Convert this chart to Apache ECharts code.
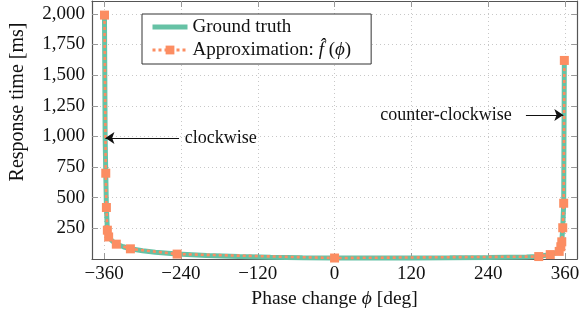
<!DOCTYPE html>
<html>
<head>
<meta charset="utf-8">
<script src="https://cdn.jsdelivr.net/npm/echarts@6/dist/echarts.min.js"></script>
<style>html,body{margin:0;padding:0;background:#fff}#c{width:582px;height:314px}</style>
</head>
<body>
<div id="c"></div>
<script>
const xTicks = [-360, -240, -120, 0, 120, 240, 360];
const yTicks = [250, 500, 750, 1000, 1250, 1500, 1750, 2000];

const truthX = [-359.5, -358.5, -357.5, -356.5, -355, -353, -348, -341, -330, -319, -300, -280, -246, -200, -150, -100, -50, 0, 60, 120, 180, 240, 300, 319, 337, 345, 351, 355, 356.5, 358, 359];
const truthY = [1990, 1000, 700, 420, 240, 180, 150, 121, 100, 83, 68, 55, 40, 28, 20, 14, 10, 8, 8, 9, 10, 12, 16, 20, 36, 50, 62, 140, 255, 455, 1620];

const approxX = [-359.5, -357.5, -356.5, -355, -353, -341, -319, -246, 0, 319, 337, 351, 353.5, 355, 356.5, 358, 359];
const approxY = [1990, 700, 420, 235, 180, 121, 83, 40, 8, 20, 36, 62, 100, 140, 255, 455, 1620];

const noteText = ['clockwise', 'counter-clockwise'];
const noteX = [-178, 174];
const noteY = [985, 1174];
const arrowFromX = [-243, 299];
const arrowToX = [-358, 357.4];
const arrowY = [988, 1174];

const FONT = 'Liberation Serif';
const truthName = 'Ground truth';
const approxName = 'Approximation: f\u0302 (\u03d5)';

const chart = echarts.init(document.getElementById('c'), null, {renderer: 'canvas'});
const axisLineStyle = {color: '#555', width: 1.2};
const tickStyle = {color: '#999', width: 1};
const fmtY = v => v.toLocaleString('en-US');
const fmtX = v => v < 0 ? '\u2212' + (-v) : String(v);

chart.setOption({
  animation: false,
  grid: {left: 83, right: 3, top: 1, bottom: 53},
  legend: {
    orient: 'vertical', left: 142, top: 14,
    data: [
      {name: truthName, itemStyle: {opacity: 0}, lineStyle: {width: 5}},
      {name: approxName, lineStyle: {width: 3}}
    ],
    itemWidth: 35, itemHeight: 11, itemGap: 3,
    padding: [3, 20, 4, 8],
    borderColor: '#333', borderWidth: 1, backgroundColor: '#fff',
    textStyle: {fontFamily: FONT, fontSize: 19, color: '#111', lineHeight: 20,
      rich: {n: {fontFamily: FONT, fontSize: 19, color: '#111'}, i: {fontFamily: FONT, fontSize: 19, fontStyle: 'italic', color: '#111'}}},
    formatter: name => name === approxName ? '{n|Approximation: }{i|f\u0302}{n| (}{i|\u03d5}{n|)}' : name
  },
  xAxis: [{
    type: 'value', min: -379, max: 379, position: 'bottom',
    axisLine: {show: true, onZero: false, lineStyle: axisLineStyle},
    axisTick: {show: true, inside: true, length: 6, customValues: xTicks, lineStyle: tickStyle},
    axisLabel: {customValues: xTicks, formatter: fmtX, margin: 6, color: '#111', fontSize: 19, fontFamily: FONT},
    splitLine: {show: true, lineStyle: {color: '#c8c8c8', type: [1, 3]}},
    name: '{n|Phase change }{i|\u03d5}{n| [deg]}', nameLocation: 'middle', nameGap: 30,
    nameTextStyle: {rich: {n: {fontFamily: FONT, fontSize: 19.5, color: '#111'}, i: {fontFamily: FONT, fontSize: 19.5, fontStyle: 'italic', color: '#111'}}}
  }, {
    type: 'value', min: -379, max: 379, position: 'top',
    axisLine: {show: true, onZero: false, lineStyle: axisLineStyle},
    axisTick: {show: true, inside: true, length: 6, customValues: xTicks, lineStyle: tickStyle},
    axisLabel: {show: false}, splitLine: {show: false}
  }],
  yAxis: [{
    type: 'value', min: 0, max: 2105, position: 'left',
    axisLine: {show: true, onZero: false, lineStyle: axisLineStyle},
    axisTick: {show: true, inside: true, length: 6, customValues: yTicks, lineStyle: tickStyle},
    axisLabel: {customValues: yTicks, formatter: fmtY, margin: 7, color: '#111', fontSize: 19, fontFamily: FONT},
    splitLine: {show: true, lineStyle: {color: '#c8c8c8', type: [1, 3]}},
    name: 'Response time [ms]', nameLocation: 'middle', nameGap: 64,
    nameTextStyle: {fontFamily: FONT, fontSize: 20, color: '#111', padding: [0, 0, 0, 56]}
  }, {
    type: 'value', min: 0, max: 2105, position: 'right',
    axisLine: {show: true, onZero: false, lineStyle: axisLineStyle},
    axisTick: {show: true, inside: true, length: 6, customValues: yTicks, lineStyle: tickStyle},
    axisLabel: {show: false}, splitLine: {show: false}
  }],
  series: [{
    type: 'line', name: truthName,
    data: truthX.map((x, i) => [x, truthY[i]]),
    symbol: 'rect', showSymbol: false, symbolSize: 0,
    lineStyle: {color: '#66c2a5', width: 5},
    itemStyle: {color: '#66c2a5'}, z: 2, silent: true
  }, {
    type: 'line', name: approxName,
    data: approxX.map((x, i) => [x, approxY[i]]),
    symbol: 'rect', symbolSize: 9,
    lineStyle: {color: '#fc8d62', width: 2.6, type: [3, 3]},
    itemStyle: {color: '#fc8d62'}, z: 3, silent: true
  }, {
    type: 'scatter', name: 'notes',
    data: noteX.map((x, i) => [x, noteY[i], noteText[i]]),
    symbolSize: 0, silent: true,
    itemStyle: {opacity: 1},
    label: {show: true, position: 'inside', formatter: p => p.data[2], fontFamily: FONT, fontSize: 18, color: '#111', opacity: 1},
    markLine: {
      silent: true, symbol: ['none', 'arrow'], symbolSize: 9,
      label: {show: false},
      lineStyle: {color: '#111', width: 1.2, type: 'solid', opacity: 1},
      data: arrowFromX.map((x, i) => [{coord: [x, arrowY[i]]}, {coord: [arrowToX[i], arrowY[i]]}])
    }
  }]
});
</script>
</body>
</html>
